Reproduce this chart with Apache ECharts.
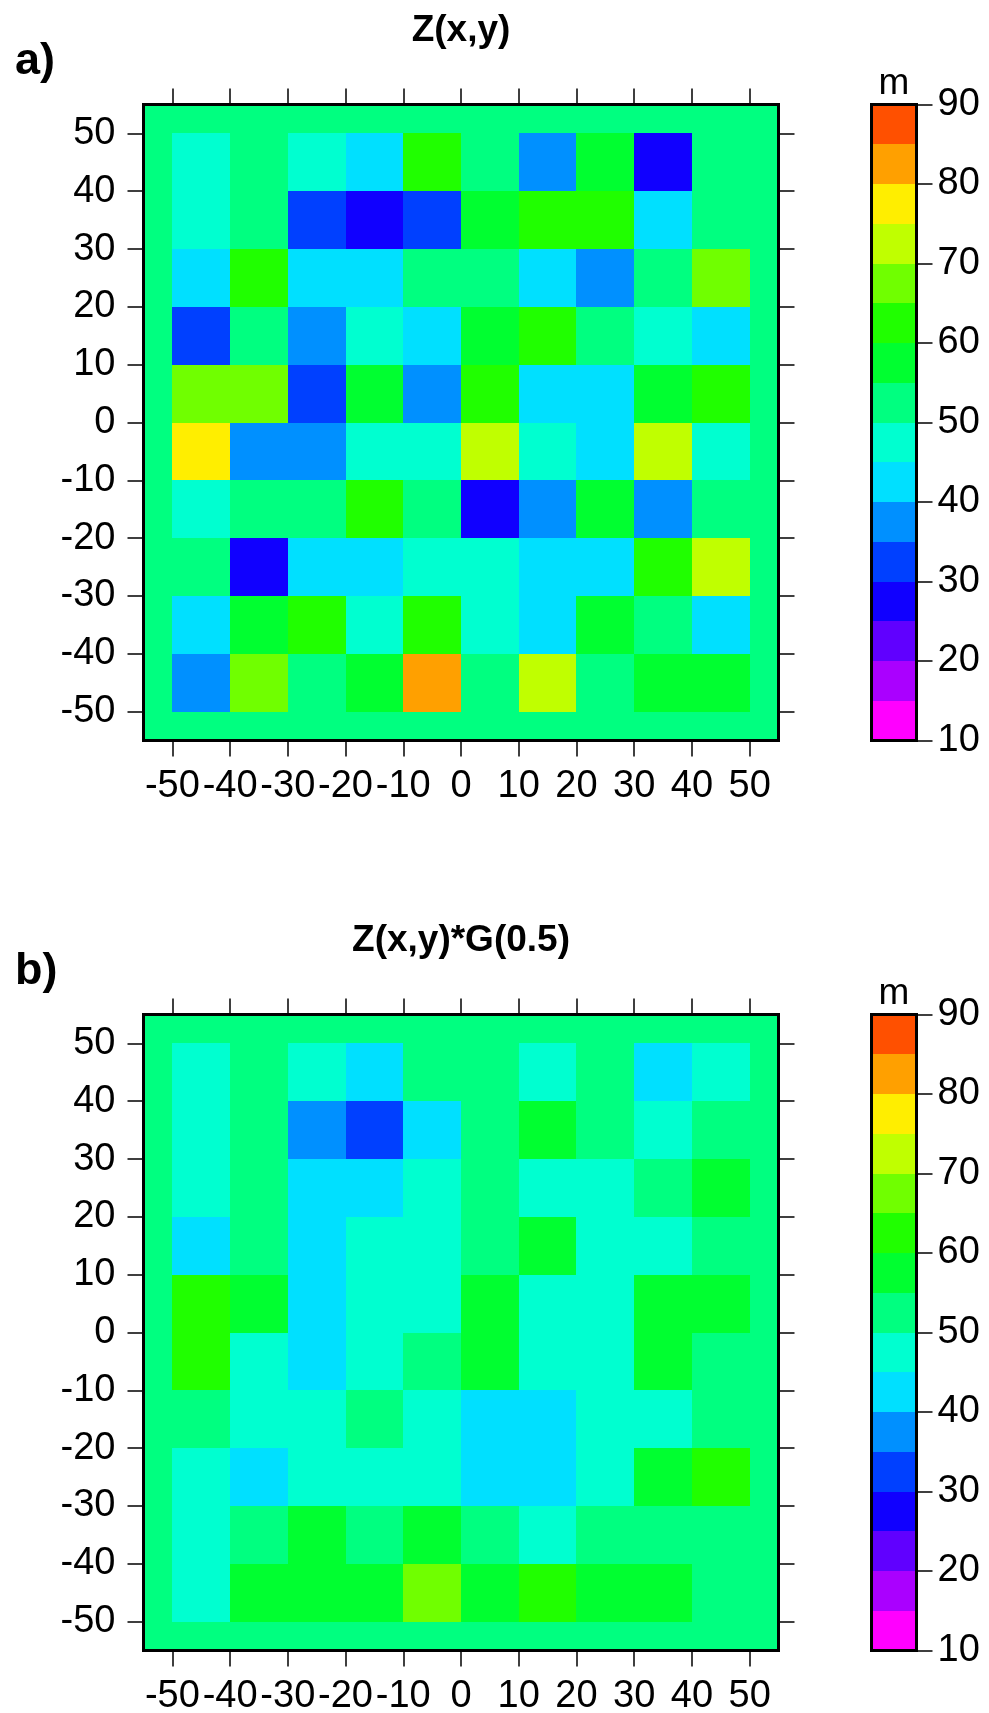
<!DOCTYPE html>
<html>
<head>
<meta charset="utf-8">
<script src="https://cdn.jsdelivr.net/npm/echarts@6/dist/echarts.min.js"></script>
<style>
html, body { margin: 0; padding: 0; background: #ffffff; }
#chart { width: 989px; height: 1713px; }
</style>
</head>
<body>
<div id="chart"></div>
<script>
// Cell edges: x from left to right, y from top to bottom
const xEdges = [-50, -40, -30, -20, -10, 0, 10, 20, 30, 40, 50];
const yEdges = [50, 40, 30, 20, 10, 0, -10, -20, -30, -40, -50];
const plotRange = [-55, 55];
const axisTicks = [-50, -40, -30, -20, -10, 0, 10, 20, 30, 40, 50];

// Z(x,y) in metres, one row per y band, from y = 50 down to y = -50
const zA = [
  [48, 52, 47, 43, 63, 53, 38, 57, 28, 52],
  [47, 53, 33, 27, 32, 58, 62, 61, 42, 51],
  [43, 62, 44, 42, 52, 53, 43, 37, 53, 68],
  [32, 52, 38, 47, 43, 58, 62, 54, 48, 43],
  [67, 68, 32, 57, 38, 61, 42, 43, 58, 62],
  [77, 38, 37, 48, 47, 72, 48, 42, 73, 47],
  [48, 53, 52, 62, 53, 27, 38, 58, 37, 53],
  [52, 28, 42, 43, 47, 48, 43, 42, 63, 72],
  [42, 57, 62, 48, 62, 47, 43, 58, 52, 42],
  [37, 67, 53, 57, 82, 52, 73, 53, 58, 57]
];

// Z(x,y) filtered with G(0.5)
const zB = [
  [47, 53, 48, 43, 52, 53, 47, 52, 42, 48],
  [48, 52, 38, 33, 43, 53, 57, 52, 48, 53],
  [47, 53, 42, 43, 48, 52, 47, 48, 53, 58],
  [43, 52, 43, 47, 48, 53, 57, 48, 47, 52],
  [61, 57, 42, 48, 47, 58, 48, 47, 58, 57],
  [61, 48, 43, 47, 53, 57, 48, 47, 58, 53],
  [52, 48, 47, 53, 48, 43, 42, 48, 47, 52],
  [48, 43, 47, 48, 47, 43, 42, 48, 57, 61],
  [47, 53, 57, 53, 57, 52, 48, 53, 52, 53],
  [48, 57, 58, 57, 66, 58, 62, 57, 58, 53]
];

// Value of the surface outside the sampled cells
const fillA = 52;
const fillB = 52;

// Colour scale: 5 m steps from 10 to 90
const levels = [10, 15, 20, 25, 30, 35, 40, 45, 50, 55, 60, 65, 70, 75, 80, 85, 90];
const levelColors = [
  '#ff00ff', '#aa00ff', '#6000ff', '#1000ff', '#0040ff', '#0090ff', '#00e0ff', '#00ffd0',
  '#00ff80', '#00ff30', '#20ff00', '#70ff00', '#c0ff00', '#ffee00', '#ffa000', '#ff5000'
];
const colorbarTicks = [10, 20, 30, 40, 50, 60, 70, 80, 90];
const unitLabel = 'm';
const titles = ['Z(x,y)', 'Z(x,y)*G(0.5)'];
const panelTags = ['a)', 'b)'];

const FONT = '"Liberation Sans", Helvetica, Arial, sans-serif';
const LABEL_SIZE = 38;

function cellData(z, fill) {
  const out = [[plotRange[0], plotRange[1], plotRange[0], plotRange[1], fill]];
  for (let r = 0; r < z.length; r++) {
    for (let c = 0; c < z[r].length; c++) {
      out.push([xEdges[c], xEdges[c + 1], yEdges[r + 1], yEdges[r], z[r][c]]);
    }
  }
  return out;
}

function bandData() {
  const out = [];
  for (let i = 0; i < levels.length - 1; i++) {
    out.push([0, 1, levels[i], levels[i + 1], (levels[i] + levels[i + 1]) / 2]);
  }
  return out;
}

// Each datum is [x0, x1, y0, y1, value]; fill comes from the visualMap
function renderRect(params, api) {
  const p0 = api.coord([api.value(0), api.value(3)]);
  const p1 = api.coord([api.value(1), api.value(2)]);
  const x0 = Math.round(p0[0]), y0 = Math.round(p0[1]);
  const x1 = Math.round(p1[0]), y1 = Math.round(p1[1]);
  return {
    type: 'rect',
    shape: { x: x0, y: y0, width: x1 - x0, height: y1 - y0 },
    style: { fill: api.visual('color') }
  };
}

function axis(gridIndex, position, range, ticks, labels, margin) {
  return {
    type: 'value',
    gridIndex: gridIndex,
    position: position,
    min: range[0],
    max: range[1],
    z: 10,
    axisLine: { show: true, onZero: false, lineStyle: { color: '#000', width: 3, cap: 'square' } },
    axisTick: {
      show: !!ticks, inside: false, length: 16,
      lineStyle: { color: '#000', width: 1.5 },
      customValues: ticks || undefined
    },
    axisLabel: {
      show: !!labels, customValues: ticks || undefined, margin: margin || 8,
      color: '#000', fontSize: LABEL_SIZE, fontFamily: FONT
    },
    splitLine: { show: false }
  };
}

const panelTop = [104.5, 1014.5];
const grids = [];
const xAxes = [];
const yAxes = [];
const series = [];

panelTop.forEach(function (top, p) {
  // map panel
  grids.push({ left: 143.5, top: top, width: 635, height: 636, outerBoundsMode: 'none' });
  const g = grids.length - 1;
  xAxes.push(axis(g, 'bottom', plotRange, axisTicks, true, 27));
  xAxes.push(axis(g, 'top', plotRange, axisTicks, false));
  yAxes.push(axis(g, 'left', plotRange, axisTicks, true, 28));
  yAxes.push(axis(g, 'right', plotRange, axisTicks, false));
  series.push({
    type: 'custom',
    xAxisIndex: xAxes.length - 2,
    yAxisIndex: yAxes.length - 2,
    encode: { x: [0, 1], y: [2, 3] },
    renderItem: renderRect,
    data: cellData(p === 0 ? zA : zB, p === 0 ? fillA : fillB),
    silent: true
  });

  // colour bar
  grids.push({ left: 871.5, top: top, width: 45, height: 636, outerBoundsMode: 'none' });
  const gb = grids.length - 1;
  const vRange = [levels[0], levels[levels.length - 1]];
  xAxes.push(axis(gb, 'bottom', [0, 1], null, false));
  xAxes.push(axis(gb, 'top', [0, 1], null, false));
  yAxes.push(axis(gb, 'left', vRange, null, false));
  yAxes.push(axis(gb, 'right', vRange, colorbarTicks, true, 21));
  series.push({
    type: 'custom',
    xAxisIndex: xAxes.length - 2,
    yAxisIndex: yAxes.length - 1,
    encode: { x: [0, 1], y: [2, 3] },
    renderItem: renderRect,
    data: bandData(),
    silent: true
  });
});

const pieces = [];
for (let i = 0; i < levelColors.length; i++) {
  pieces.push({ gte: levels[i], lt: levels[i + 1], color: levelColors[i] });
}

const graphics = [];
panelTop.forEach(function (top, p) {
  const dy = top - panelTop[0];
  graphics.push({
    type: 'text', x: 461, y: 31 + dy,
    style: { text: titles[p], fill: '#000', font: 'bold 37px ' + FONT, align: 'center', verticalAlign: 'middle' }
  });
  graphics.push({
    type: 'text', x: 15, y: 62 + dy,
    style: { text: panelTags[p], fill: '#000', font: 'bold 45px ' + FONT, align: 'left', verticalAlign: 'middle' }
  });
  graphics.push({
    type: 'text', x: 894, y: 84 + dy,
    style: { text: unitLabel, fill: '#000', font: '37px ' + FONT, align: 'center', verticalAlign: 'middle' }
  });
});

const chart = echarts.init(document.getElementById('chart'), null, { renderer: 'canvas' });
chart.setOption({
  animation: false,
  backgroundColor: '#ffffff',
  grid: grids,
  xAxis: xAxes,
  yAxis: yAxes,
  visualMap: {
    type: 'piecewise',
    show: false,
    dimension: 4,
    seriesIndex: [0, 1, 2, 3],
    pieces: pieces
  },
  series: series,
  graphic: graphics
});
</script>
</body>
</html>
